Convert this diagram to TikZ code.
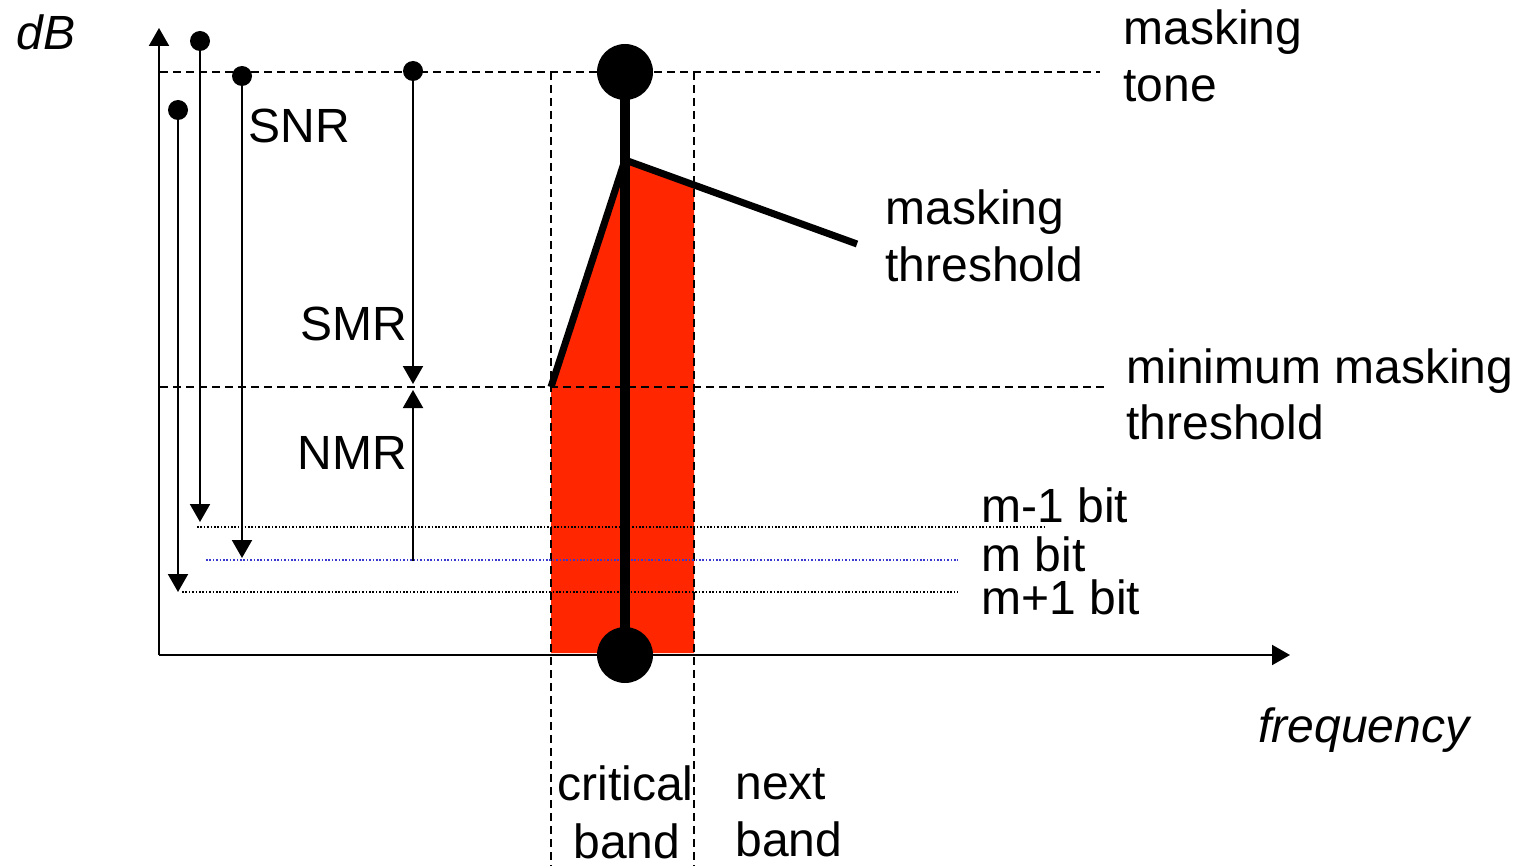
\documentclass[tikz,border=0pt]{standalone}
\usepackage{fontspec}
\setmainfont{Liberation Sans}
\usetikzlibrary{arrows.meta}
\definecolor{bandred}{HTML}{FF2600}
\definecolor{bitblue}{HTML}{3A3ACF}
\tikzset{
  lbl/.style={anchor=base west, inner sep=0pt, font=\fontsize{24pt}{28.5pt}\selectfont},
  ilbl/.style={lbl, font=\fontsize{24pt}{28.5pt}\selectfont\itshape},
  guide/.style={line width=0.9pt, dash pattern=on 4pt off 2.5pt},
  bitline/.style={line width=0.6pt, dash pattern=on 0.8pt off 0.9pt},
  axis/.style={line width=1pt, -{Triangle[width=10pt,length=9pt]}},
  meas/.style={line width=1pt, -{Triangle[width=10pt,length=9pt]}},
  dot/.style={circle, fill, inner sep=0pt, minimum size=10pt},
  bigdot/.style={circle, fill, inner sep=0pt, minimum size=28pt},
}
\begin{document}
\begin{tikzpicture}[x=0.5pt, y=-0.5pt]
\useasboundingbox (0,0) rectangle (1518,866);

% critical band area under the masking threshold
\fill[bandred] (551,387) -- (625,160) -- (694,186) -- (694,653) -- (551,653) -- cycle;

% reference levels and band edges
\coordinate (toneL) at (160,72);   \coordinate (toneR) at (1100,72);
\coordinate (minL) at (160,387);   \coordinate (minR) at (1105,387);
\coordinate (cbL) at (551,72);     \coordinate (cbLb) at (551,866);
\coordinate (cbR) at (694,72);     \coordinate (cbRb) at (694,866);
\draw[guide] (toneL) -- (toneR);
\draw[guide] (minL) -- (minR);
\draw[guide] (cbL) -- (cbLb);
\draw[guide] (cbR) -- (cbRb);

% quantisation noise levels
\coordinate (b1L) at (197,527); \coordinate (b1R) at (1045,527);
\coordinate (b2L) at (206,560); \coordinate (b2R) at (958,560);
\coordinate (b3L) at (182,592); \coordinate (b3R) at (958,592);
\draw[bitline] (b1L) -- (b1R);
\draw[bitline, bitblue] (b2L) -- (b2R);
\draw[bitline] (b3L) -- (b3R);

% axes
\coordinate (origin) at (159,655);
\coordinate (ytip) at (159,28);
\coordinate (xtip) at (1290,655);
\draw[axis] (origin) -- (ytip);
\draw[axis] (origin) -- (xtip);

% masking tone and threshold
\node[bigdot] (tone) at (625,72) {};
\node[bigdot] (foot) at (625,655) {};
\draw[line width=5pt] (tone.center) -- (foot.center);
\coordinate (thrL) at (551,387);
\coordinate (thrP) at (625,160);
\coordinate (thrR) at (857,244);
\draw[line width=3.5pt, line join=miter] (thrL) -- (thrP) -- (thrR);

% SNR / SMR / NMR measures
\node[dot] (d1) at (200,41) {};
\node[dot] (d2) at (242,76) {};
\node[dot] (d3) at (178,110) {};
\node[dot] (d4) at (413,71) {};
\coordinate (e1) at (200,522);
\coordinate (e2) at (242,558);
\coordinate (e3) at (178,592);
\coordinate (smrE) at (413,384);
\coordinate (nmrS) at (413,561);
\coordinate (nmrE) at (413,390);
\draw[meas] (d1.center) -- (e1);
\draw[meas] (d2.center) -- (e2);
\draw[meas] (d3.center) -- (e3);
\draw[meas] (d4.center) -- (smrE);
\draw[meas] (nmrS) -- (nmrE);

% labels
\node[ilbl] (ydb) at (16,50) {dB};
\node[ilbl] (xfreq) at (1258,742) {frequency};
\node[lbl] (tone1) at (1123,45) {masking};
\node[lbl] (tone2) at (1123,102) {tone};
\node[lbl] (thr1) at (885,224) {masking};
\node[lbl] (thr2) at (885,281) {threshold};
\node[lbl] (min1) at (1126,383) {minimum masking};
\node[lbl] (min2) at (1126,439) {threshold};
\node[lbl] (snr) at (248,143) {SNR};
\node[lbl] (smr) at (300,340) {SMR};
\node[lbl] (nmr) at (297,469) {NMR};
\node[lbl] (bm1) at (981,522) {m-1 bit};
\node[lbl] (bm) at (981,571) {m bit};
\node[lbl] (bp1) at (981,614) {m+1 bit};
\node[lbl] (cb1) at (557,800) {critical};
\node[lbl] (cb2) at (573,858) {band};
\node[lbl] (nb1) at (735,799) {next};
\node[lbl] (nb2) at (735,856) {band};
\end{tikzpicture}
\end{document}
